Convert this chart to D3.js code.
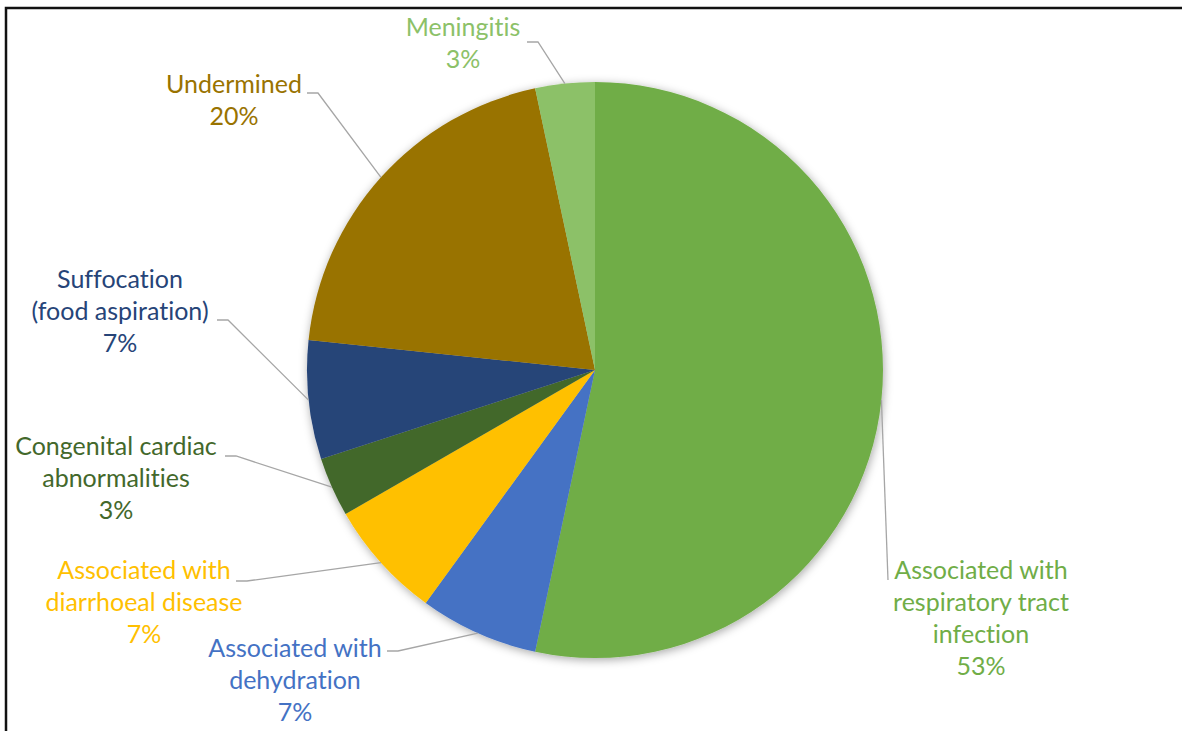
<!DOCTYPE html>
<html>
<head>
<meta charset="utf-8">
<script src="https://cdn.jsdelivr.net/npm/d3@7"></script>
<style>
  html, body { margin: 0; padding: 0; background: #fff; }
  svg { display: block; }
  text { font-family: Lato, "Open Sans", sans-serif; font-variant-ligatures: none; }
</style>
</head>
<body>
<svg id="chart" width="1182" height="731"></svg>
<script>
// Causes of death — counts per category, clockwise from 12 o'clock
const categories = [
  "Associated with respiratory tract infection",
  "Associated with dehydration",
  "Associated with diarrhoeal disease",
  "Congenital cardiac abnormalities",
  "Suffocation (food aspiration)",
  "Undermined",
  "Meningitis"
];
const counts = [16, 2, 2, 1, 2, 6, 1];
const sliceColors = ["#70AD47", "#4472C4", "#FFC000", "#43682B", "#264478", "#997300", "#8CC168"];

// How each category name wraps in its data label
const labelLines = [
  ["Associated with", "respiratory tract", "infection"],
  ["Associated with", "dehydration"],
  ["Associated with", "diarrhoeal disease"],
  ["Congenital cardiac", "abnormalities"],
  ["Suffocation", "(food aspiration)"],
  ["Undermined"],
  ["Meningitis"]
];

// Label placement: text centre x, first baseline y, and where the leader line meets the label
const labelLayout = [
  { cx: 981, y: 579, lx: 888, ly: 580, elbow: false },
  { cx: 295, y: 657, lx: 387, ly: 651, elbow: true },
  { cx: 144, y: 579, lx: 236, ly: 581, elbow: true },
  { cx: 116, y: 455, lx: 225, ly: 456, elbow: true },
  { cx: 120, y: 288, lx: 217, ly: 320, elbow: true },
  { cx: 234, y: 93,  lx: 307, ly: 93,  elbow: true },
  { cx: 463, y: 36,  lx: 527, ly: 42,  elbow: true }
];

const svg = d3.select("#chart");
const cx = 595, cy = 370, radius = 288;
const lineHeight = 32;

// Outer frame (top and left edges)
svg.append("path")
  .attr("d", "M6,731 V8 H1182")
  .attr("fill", "none")
  .attr("stroke", "#111")
  .attr("stroke-width", 2.5);

// Soft shadow under the pie
const defs = svg.append("defs");
const f = defs.append("filter").attr("id", "pieShadow")
  .attr("x", "-10%").attr("y", "-10%").attr("width", "120%").attr("height", "120%");
f.append("feDropShadow")
  .attr("dx", 1).attr("dy", 2).attr("stdDeviation", 5)
  .attr("flood-color", "#000").attr("flood-opacity", 0.35);

const total = d3.sum(counts);
const data = categories.map((c, i) => ({
  name: c, value: counts[i], color: sliceColors[i],
  lines: labelLines[i], layout: labelLayout[i],
  pct: Math.round(counts[i] / total * 100) + "%"
}));

const pie = d3.pie().value(d => d.value).sort(null);
const arcs = pie(data);
const arc = d3.arc().innerRadius(0).outerRadius(radius);
const edgeArc = d3.arc().innerRadius(radius).outerRadius(radius);

const g = svg.append("g").attr("transform", `translate(${cx},${cy})`);

g.append("g").attr("filter", "url(#pieShadow)")
  .selectAll("path")
  .data(arcs)
  .join("path")
  .attr("d", arc)
  .attr("fill", d => d.data.color);

// Leader lines from the slice mid-point on the rim to each label
const leaders = svg.append("g");
arcs.forEach(a => {
  const [ex, ey] = edgeArc.centroid(a);
  const L = a.data.layout;
  const pts = [[cx + ex, cy + ey]];
  if (L.elbow) pts.push([L.lx + 11, L.ly]);
  pts.push([L.lx, L.ly]);
  leaders.append("path")
    .attr("d", d3.line()(pts))
    .attr("fill", "none")
    .attr("stroke", "#A6A6A6")
    .attr("stroke-width", 1.3);
});

// Data labels: category name and percentage
const labels = svg.append("g");
data.forEach(d => {
  const t = labels.append("text")
    .attr("text-anchor", "middle")
    .attr("fill", d.color)
    .attr("font-size", 25);
  d.lines.concat([d.pct]).forEach((ln, k) => {
    t.append("tspan")
      .attr("x", d.layout.cx)
      .attr("y", d.layout.y + k * lineHeight)
      .text(ln);
  });
});
</script>
</body>
</html>
